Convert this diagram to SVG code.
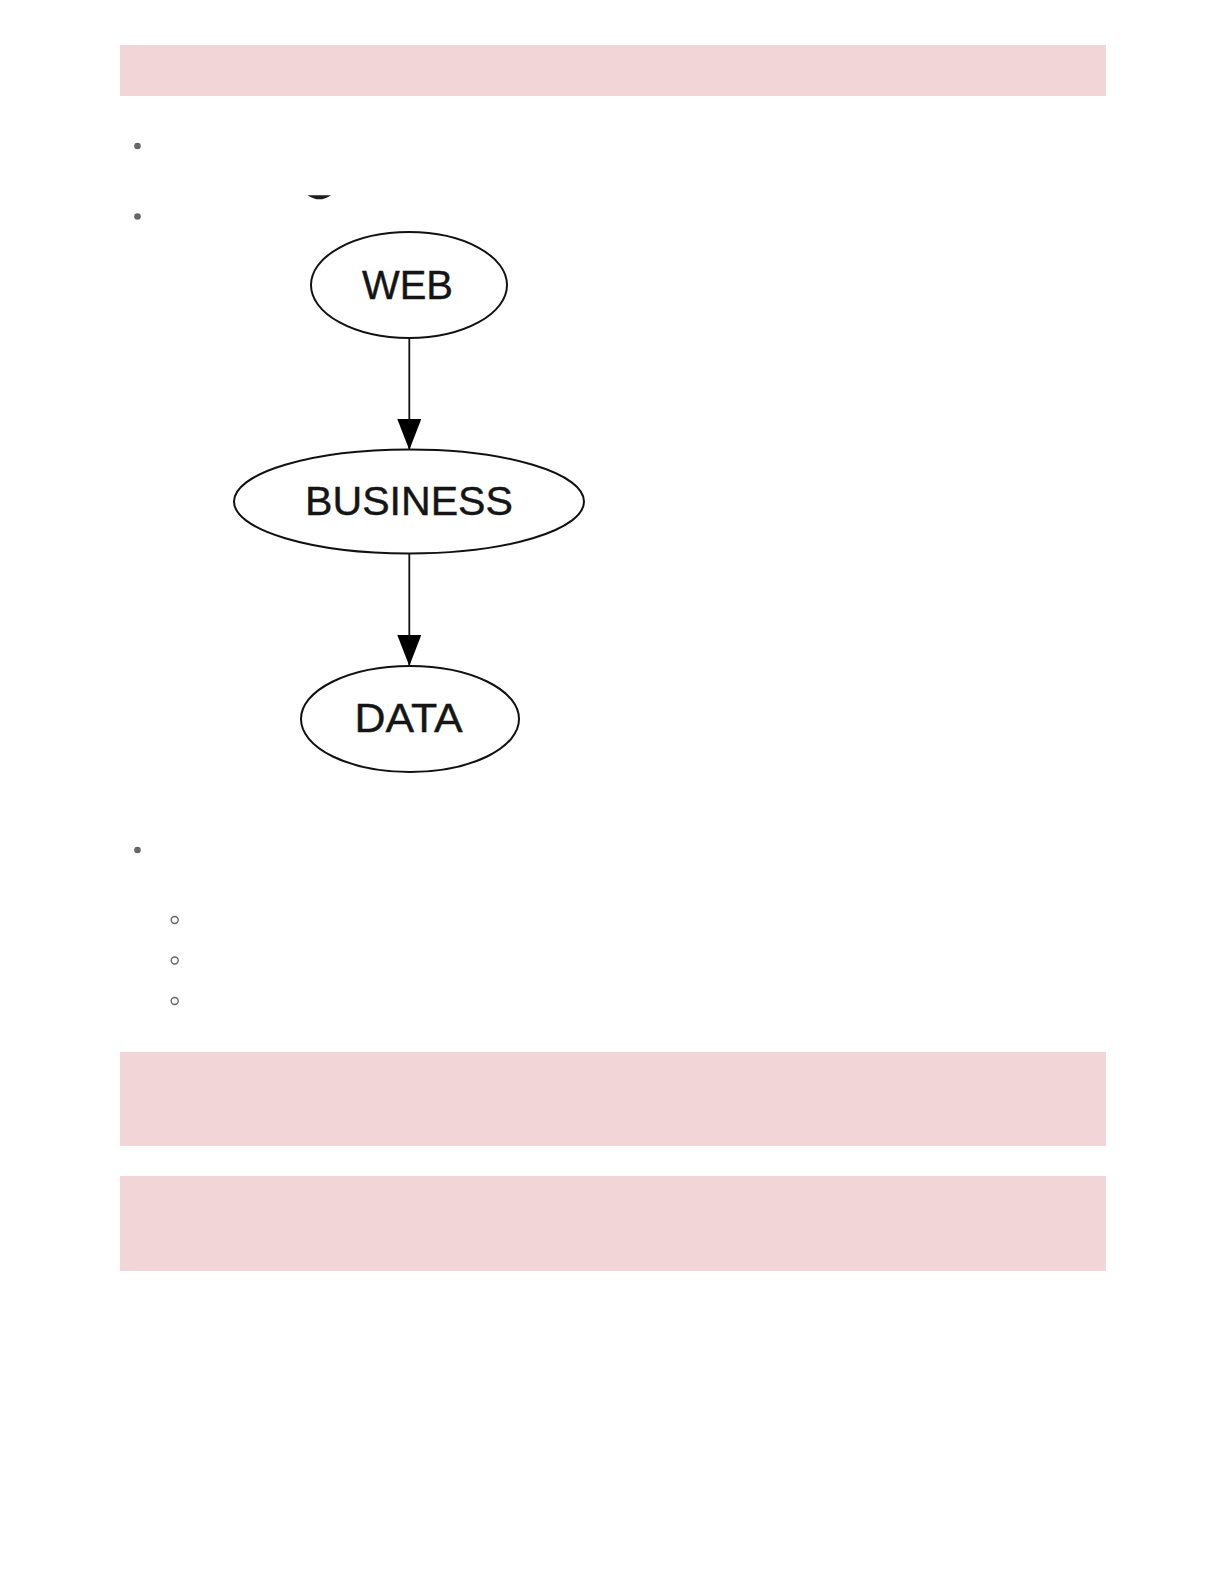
<svg xmlns="http://www.w3.org/2000/svg" width="1224" height="1584" viewBox="0 0 1224 1584">
  <style>
    .band { fill: #f2d6d7; }
    .dot { fill: #666666; }
    .ring { fill: none; stroke: #666666; stroke-width: 1.4; }
    .node ellipse { fill: #ffffff; stroke: #111111; stroke-width: 2; }
    .node text { font-family: "Liberation Sans", Arial, sans-serif; font-size: 40px; fill: #151515; stroke: #151515; stroke-width: 0.4; text-anchor: middle; }
    .edge { stroke: #111111; stroke-width: 1.8; fill: none; }
  </style>
  <defs>
    <marker id="arrow" markerUnits="userSpaceOnUse" markerWidth="31" markerHeight="24" viewBox="0 0 31 24" refX="31" refY="12" orient="auto">
      <path d="M0,0 L31,12 L0,24 z" fill="#000000"/>
    </marker>
  </defs>
  <rect width="1224" height="1584" fill="#ffffff"/>

  <!-- pink bands -->
  <rect class="band" x="120" y="45" width="986" height="51"/>
  <rect class="band" x="120" y="1052" width="986" height="94"/>
  <rect class="band" x="120" y="1176" width="986" height="95"/>

  <!-- bullets -->
  <circle class="dot" cx="137.5" cy="146" r="3.3"/>
  <circle class="dot" cx="137.5" cy="216.5" r="3.3"/>
  <circle class="dot" cx="137.5" cy="850" r="3.3"/>
  <circle class="ring" cx="174.7" cy="920" r="3.5"/>
  <circle class="ring" cx="174.7" cy="960.5" r="3.5"/>
  <circle class="ring" cx="174.7" cy="1001" r="3.5"/>

  <!-- small dark fragment -->
  <path d="M307.5,195.2 L331,195.2 Q319.5,203.5 307.5,195.2 z" fill="#1e1e1e"/>

  <!-- connectors -->
  <g id="connectors">
    <line class="edge" x1="409.3" y1="338.5" x2="409.3" y2="450" marker-end="url(#arrow)"/>
    <line class="edge" x1="409.3" y1="553.5" x2="409.3" y2="666" marker-end="url(#arrow)"/>
  </g>

  <g id="node-web" class="node">
    <ellipse cx="409" cy="285" rx="98" ry="53"/>
    <text x="407.5" y="299" textLength="91" lengthAdjust="spacingAndGlyphs">WEB</text>
  </g>
  <g id="node-business" class="node">
    <ellipse cx="409" cy="501.5" rx="175" ry="52"/>
    <text x="409" y="515" textLength="208" lengthAdjust="spacingAndGlyphs">BUSINESS</text>
  </g>
  <g id="node-data" class="node">
    <ellipse cx="410" cy="719" rx="109" ry="53"/>
    <text x="408.5" y="731.5" textLength="108" lengthAdjust="spacingAndGlyphs">DATA</text>
  </g>
</svg>
